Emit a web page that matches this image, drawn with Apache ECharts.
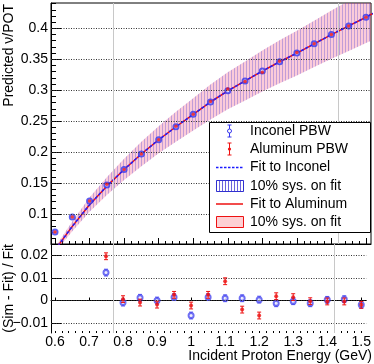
<!DOCTYPE html>
<html>
<head>
<meta charset="utf-8">
<script src="https://cdn.jsdelivr.net/npm/echarts@6/dist/echarts.min.js"></script>
<style>
  html, body { margin: 0; padding: 0; background: #fff; }
  #chart { width: 374px; height: 364px; }
</style>
</head>
<body>
<div id="chart"></div>
<script>
// beam energy points (GeV)
var energy = [0.6, 0.65, 0.7, 0.75, 0.8, 0.85, 0.9, 0.95, 1.0, 1.05, 1.1, 1.15, 1.2, 1.25, 1.3, 1.35, 1.4, 1.45, 1.5];
// predicted nu/POT
var nuInconel  = [0.071, 0.095, 0.121, 0.147, 0.172, 0.197, 0.220, 0.241, 0.261, 0.281, 0.299, 0.315, 0.331, 0.346, 0.360, 0.375, 0.390, 0.404, 0.418];
var nuAluminum = [0.071, 0.095, 0.121, 0.148, 0.172, 0.197, 0.220, 0.242, 0.261, 0.282, 0.302, 0.314, 0.329, 0.347, 0.361, 0.375, 0.390, 0.404, 0.418];
// fit curve
var fitE   = [0.6, 0.65, 0.7, 0.75, 0.8, 0.85, 0.9, 0.95, 1.0, 1.05, 1.1, 1.15, 1.2, 1.25, 1.3, 1.35, 1.4, 1.45, 1.5, 1.52];
var fitVal = [0.042, 0.080, 0.115, 0.145, 0.172, 0.197, 0.220, 0.241, 0.261, 0.281, 0.299, 0.315, 0.331, 0.346, 0.360, 0.375, 0.390, 0.404, 0.418, 0.424];
var SYS = 0.10;
// (sim - fit) / fit
var resInconel  = [null, null, null, 0.0123, -0.0009, 0.0012, 0.0000, 0.0015, -0.0066, 0.0015, 0.0010, 0.0010, 0.0004, -0.0012, -0.0003, -0.0012, 0.0003, 0.0006, -0.0019];
var resAluminum = [null, null, null, 0.0195, 0.0006, -0.0009, -0.0018, 0.0025, -0.0022, 0.0025, 0.0085, -0.0040, -0.0066, 0.0019, 0.0015, -0.0003, -0.0004, -0.0004, -0.0019];
var errInconel  = [0, 0, 0, 0.0015, 0.0015, 0.0015, 0.0015, 0.0015, 0.0015, 0.0015, 0.0015, 0.0015, 0.0015, 0.0015, 0.0015, 0.0015, 0.0015, 0.0015, 0.0015];
var errAluminum = [0, 0, 0, 0.0015, 0.0015, 0.0015, 0.0015, 0.0015, 0.0015, 0.0015, 0.0015, 0.0015, 0.0015, 0.0015, 0.0015, 0.0015, 0.0015, 0.0015, 0.0015];
// tick labels
var xMajor = [0.6, 0.7, 0.8, 0.9, 1.0, 1.1, 1.2, 1.3, 1.4, 1.5];
var yTopMajor = [0.1, 0.15, 0.2, 0.25, 0.3, 0.35, 0.4];
var yBotMajor = [-0.01, 0, 0.01, 0.02];

var xMinor = [];
for (var i = 0; i <= 45; i++) xMinor.push(+(0.6 + i * 0.02).toFixed(2));
var yTopMinor = [];
for (var i = 6; i <= 44; i++) yTopMinor.push(+(i * 0.01).toFixed(2));

var FONT = 'Liberation Sans, Arial, Helvetica, sans-serif';
var BLUE = '#3535ee';
var RED = '#ee1111';

function hatch(alpha) {
  var c = document.createElement('canvas');
  c.width = 3; c.height = 4;
  var ctx = c.getContext('2d');
  ctx.fillStyle = 'rgba(60,50,210,' + alpha + ')';
  ctx.fillRect(0, 0, 1, 4);
  return { image: c, repeat: 'repeat' };
}

var xMin = 0.5884, xMax = 1.5145;

function pairs(xs, ys) {
  var out = [];
  for (var i = 0; i < xs.length; i++) if (ys[i] !== null) out.push([xs[i], ys[i]]);
  return out;
}
function errData(res, err) {
  var out = [];
  for (var i = 0; i < energy.length; i++) if (res[i] !== null) out.push([energy[i], res[i], err[i]]);
  return out;
}
function errBar(color) {
  return function(params, api) {
    var x = api.value(0), y = api.value(1), e = api.value(2);
    var p1 = api.coord([x, y + e]), p2 = api.coord([x, y - e]);
    var st = { stroke: color, lineWidth: 1 };
    return { type: 'group', children: [
      { type: 'line', shape: { x1: p1[0], y1: p1[1], x2: p2[0], y2: p2[1] }, style: st },
      { type: 'line', shape: { x1: p1[0] - 2, y1: p1[1], x2: p1[0] + 2, y2: p1[1] }, style: st },
      { type: 'line', shape: { x1: p2[0] - 2, y1: p2[1], x2: p2[0] + 2, y2: p2[1] }, style: st }
    ]};
  };
}
// +-SYS band around the fit, drawn once as a polygon
function band(fill) {
  return function(params, api) {
    if (params.dataIndex !== 0) return;
    var pts = [];
    for (var i = 0; i < fitE.length; i++) pts.push(api.coord([fitE[i], fitVal[i] * (1 + SYS)]));
    for (var i = fitE.length - 1; i >= 0; i--) pts.push(api.coord([fitE[i], fitVal[i] * (1 - SYS)]));
    return { type: 'polygon', shape: { points: pts }, style: { fill: fill } };
  };
}
function hLines(vals) {
  return { silent: true, symbol: ['none', 'none'], label: { show: false },
    lineStyle: { color: '#333', type: [1, 1.5], width: 1 },
    data: vals.map(function(v) { return { yAxis: v }; }) };
}
function vLines() {
  return { silent: true, symbol: ['none', 'none'], label: { show: false },
    lineStyle: { color: '#c8c8c8', type: 'solid', width: 1 },
    data: [{ xAxis: 0.7735 }, { xAxis: 1.4225 }] };
}

var labelStyle = { color: '#000', fontSize: 14, fontFamily: FONT };
var axisLine = { show: true, lineStyle: { color: '#000', width: 1 } };

var myChart = echarts.init(document.getElementById('chart'));
var option = {
  animation: false,
  grid: [
    { left: 51, top: 3, width: 320, height: 241, show: true, borderColor: '#000', borderWidth: 1 },
    { left: 51, top: 244, width: 320, height: 89 }
  ],
  xAxis: [
    { type: 'value', gridIndex: 0, min: xMin, max: xMax, position: 'bottom', axisLine: axisLine,
      axisTick: { inside: true, length: 6, customValues: xMajor, lineStyle: { color: '#000' } },
      axisLabel: { show: false }, splitLine: { show: false } },
    { type: 'value', gridIndex: 0, min: xMin, max: xMax, position: 'bottom', axisLine: { show: false },
      axisTick: { inside: true, length: 3, customValues: xMinor, lineStyle: { color: '#000' } },
      axisLabel: { show: false }, splitLine: { show: false } },
    { type: 'value', gridIndex: 1, min: xMin, max: xMax, position: 'bottom', axisLine: axisLine,
      axisTick: { inside: true, length: 3, customValues: xMajor, lineStyle: { color: '#000' } },
      axisLabel: Object.assign({ margin: 2, customValues: xMajor }, labelStyle), splitLine: { show: false } },
    { type: 'value', gridIndex: 1, min: xMin, max: xMax, position: 'bottom', axisLine: { show: false },
      axisTick: { inside: true, length: 2, customValues: xMinor, lineStyle: { color: '#000' } },
      axisLabel: { show: false }, splitLine: { show: false } }
  ],
  yAxis: [
    { type: 'value', gridIndex: 0, min: 0.0515, max: 0.441, position: 'left', axisLine: axisLine,
      axisTick: { inside: true, length: 10, customValues: yTopMajor, lineStyle: { color: '#000' } },
      axisLabel: Object.assign({ margin: 3, customValues: yTopMajor }, labelStyle), splitLine: { show: false } },
    { type: 'value', gridIndex: 0, min: 0.0515, max: 0.441, position: 'left', axisLine: { show: false },
      axisTick: { inside: true, length: 5, customValues: yTopMinor, lineStyle: { color: '#000' } },
      axisLabel: { show: false }, splitLine: { show: false } },
    { type: 'value', gridIndex: 1, min: -0.0143, max: 0.0249, position: 'left', axisLine: axisLine,
      axisTick: { inside: true, length: 11, customValues: yBotMajor, lineStyle: { color: '#000' } },
      axisLabel: Object.assign({ margin: 3, customValues: yBotMajor,
        formatter: function(v) { return String(v).replace('-', '\u2212'); } }, labelStyle),
      splitLine: { show: false } }
  ],
  series: [
    // grid lines, top panel
    { type: 'line', xAxisIndex: 0, yAxisIndex: 0, data: [[1, 0.2]], symbol: 'none', lineStyle: { opacity: 0 },
      silent: true, z: 1, markLine: hLines(yTopMajor) },
    { type: 'line', xAxisIndex: 0, yAxisIndex: 0, data: [[1, 0.2]], symbol: 'none', lineStyle: { opacity: 0 },
      silent: true, z: 1, markLine: vLines() },
    // 10% bands
    { type: 'custom', xAxisIndex: 0, yAxisIndex: 0, clip: true, silent: true, z: 2,
      renderItem: band('rgba(240,70,120,0.28)'), data: pairs(fitE, fitVal) },
    { type: 'custom', xAxisIndex: 0, yAxisIndex: 0, clip: true, silent: true, z: 2,
      renderItem: band(hatch(0.3)), data: pairs(fitE, fitVal) },
    // fits
    { type: 'line', xAxisIndex: 0, yAxisIndex: 0, symbol: 'none', silent: true, z: 3,
      data: pairs(fitE, fitVal), lineStyle: { color: RED, width: 1.5 } },
    { type: 'line', xAxisIndex: 0, yAxisIndex: 0, symbol: 'none', silent: true, z: 3,
      data: pairs(fitE, fitVal), lineStyle: { color: '#2020ff', width: 1.5, type: [3, 2] } },
    // simulated points
    { type: 'scatter', xAxisIndex: 0, yAxisIndex: 0, symbol: 'emptyCircle', symbolSize: 5, z: 4,
      data: pairs(energy, nuInconel), itemStyle: { color: BLUE, borderWidth: 1.3 } },
    { type: 'scatter', xAxisIndex: 0, yAxisIndex: 0, symbol: 'circle', symbolSize: 3.5, z: 5,
      data: pairs(energy, nuAluminum), itemStyle: { color: RED } },
    // residual panel
    { type: 'line', xAxisIndex: 2, yAxisIndex: 2, data: [[1, 0]], symbol: 'none', lineStyle: { opacity: 0 },
      silent: true, z: 1, markLine: hLines(yBotMajor) },
    { type: 'line', xAxisIndex: 2, yAxisIndex: 2, data: [[1, 0]], symbol: 'none', lineStyle: { opacity: 0 },
      silent: true, z: 1, markLine: vLines() },
    { type: 'custom', xAxisIndex: 2, yAxisIndex: 2, renderItem: errBar('#5050f0'),
      data: errData(resInconel, errInconel), z: 3 },
    { type: 'scatter', xAxisIndex: 2, yAxisIndex: 2, symbol: 'emptyCircle', symbolSize: 5,
      data: pairs(energy, resInconel), itemStyle: { color: '#4a4af0', borderWidth: 1.2 }, z: 4 },
    { type: 'custom', xAxisIndex: 2, yAxisIndex: 2, renderItem: errBar(RED),
      data: errData(resAluminum, errAluminum), z: 5 },
    { type: 'scatter', xAxisIndex: 2, yAxisIndex: 2, symbol: 'circle', symbolSize: 4,
      data: pairs(energy, resAluminum), itemStyle: { color: RED }, z: 6 }
  ],
  graphic: [
    { type: 'text', x: 9, y: 4, rotation: Math.PI / 2, z: 100,
      style: { text: 'Predicted \u03bd/POT', fill: '#000', font: '14px ' + FONT, align: 'right', verticalAlign: 'middle' } },
    { type: 'text', x: 9, y: 244, rotation: Math.PI / 2, z: 100,
      style: { text: '(Sim - Fit) / Fit', fill: '#000', font: '14px ' + FONT, align: 'right', verticalAlign: 'middle' } },
    { type: 'text', x: 372, y: 356, z: 100,
      style: { text: 'Incident Proton Energy (GeV)', fill: '#000', font: '14px ' + FONT, align: 'right', verticalAlign: 'middle' } },
    // legend box
    { type: 'rect', z: 100, shape: { x: 209.5, y: 122.5, width: 161, height: 110 }, style: { fill: '#fff', stroke: '#000', lineWidth: 1 } },
    // Inconel PBW
    { type: 'line', z: 101, shape: { x1: 229.5, y1: 125, x2: 229.5, y2: 137 }, style: { stroke: BLUE, lineWidth: 1 } },
    { type: 'line', z: 101, shape: { x1: 227.5, y1: 125, x2: 231.5, y2: 125 }, style: { stroke: BLUE, lineWidth: 1 } },
    { type: 'line', z: 101, shape: { x1: 227.5, y1: 137, x2: 231.5, y2: 137 }, style: { stroke: BLUE, lineWidth: 1 } },
    { type: 'circle', z: 102, shape: { cx: 229.5, cy: 131, r: 2 }, style: { fill: '#fff', stroke: BLUE, lineWidth: 1 } },
    { type: 'text', z: 101, x: 250, y: 131, style: { text: 'Inconel PBW', fill: '#000', font: '14px ' + FONT, verticalAlign: 'middle' } },
    // Aluminum PBW
    { type: 'line', z: 101, shape: { x1: 229.5, y1: 143, x2: 229.5, y2: 155 }, style: { stroke: RED, lineWidth: 1 } },
    { type: 'line', z: 101, shape: { x1: 227.5, y1: 143, x2: 231.5, y2: 143 }, style: { stroke: RED, lineWidth: 1 } },
    { type: 'line', z: 101, shape: { x1: 227.5, y1: 155, x2: 231.5, y2: 155 }, style: { stroke: RED, lineWidth: 1 } },
    { type: 'circle', z: 102, shape: { cx: 229.5, cy: 149, r: 1.6 }, style: { fill: RED } },
    { type: 'text', z: 101, x: 250, y: 149, style: { text: 'Aluminum PBW', fill: '#000', font: '14px ' + FONT, verticalAlign: 'middle' } },
    // Fit to Inconel
    { type: 'line', z: 101, shape: { x1: 216, y1: 167.5, x2: 243, y2: 167.5 }, style: { stroke: '#1a1aff', lineWidth: 1.3, lineDash: [2.5, 1.5] } },
    { type: 'text', z: 101, x: 250, y: 167, style: { text: 'Fit to Inconel', fill: '#000', font: '14px ' + FONT, verticalAlign: 'middle' } },
    // 10% band inconel
    { type: 'rect', z: 101, shape: { x: 216.5, y: 180.5, width: 27, height: 11 }, style: { fill: hatch(0.75), stroke: '#3030d0', lineWidth: 1 } },
    { type: 'text', z: 101, x: 250, y: 186, style: { text: '10% sys. on fit', fill: '#000', font: '14px ' + FONT, verticalAlign: 'middle' } },
    // Fit to Aluminum
    { type: 'line', z: 101, shape: { x1: 216, y1: 204, x2: 243, y2: 204 }, style: { stroke: RED, lineWidth: 1.5 } },
    { type: 'text', z: 101, x: 250, y: 204, style: { text: 'Fit to Aluminum', fill: '#000', font: '14px ' + FONT, verticalAlign: 'middle' } },
    // 10% band aluminum
    { type: 'rect', z: 101, shape: { x: 216.5, y: 216.5, width: 27, height: 11 }, style: { fill: '#fdd0d4', stroke: RED, lineWidth: 1 } },
    { type: 'text', z: 101, x: 250, y: 222, style: { text: '10% sys. on fit', fill: '#000', font: '14px ' + FONT, verticalAlign: 'middle' } }
  ]
};
myChart.setOption(option);
</script>
</body>
</html>
